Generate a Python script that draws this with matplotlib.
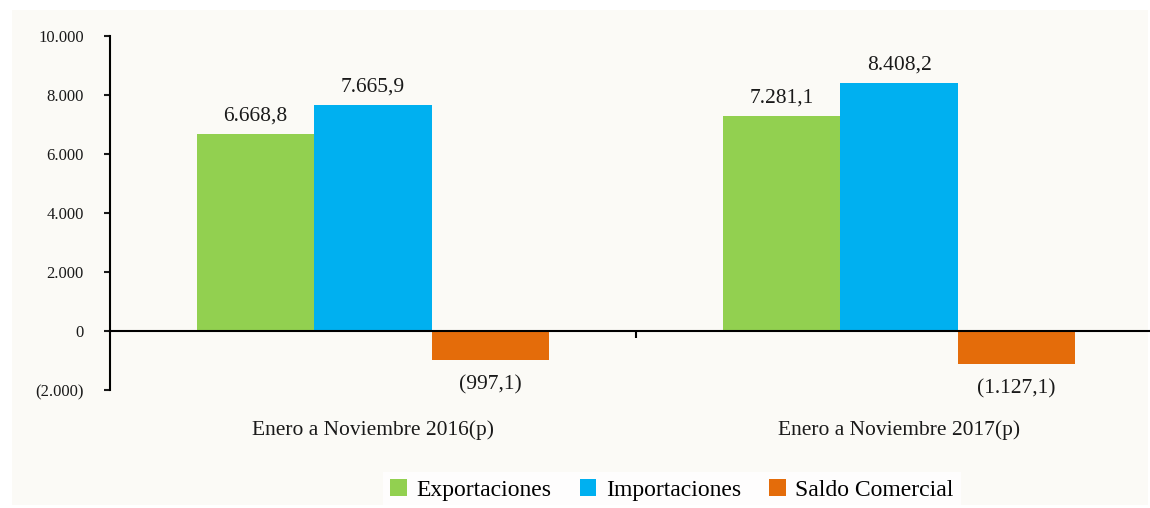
import numpy as np
import matplotlib.pyplot as plt
from matplotlib.patches import Rectangle
from matplotlib.ticker import FuncFormatter, FixedLocator

plt.rcParams['font.family'] = ['Liberation Serif', 'DejaVu Serif']

# data (millones)
periodos = ["Enero a Noviembre 2016(p)", "Enero a Noviembre 2017(p)"]
series = ["Exportaciones", "Importaciones", "Saldo Comercial"]
exportaciones = [6668.8, 7281.1]
importaciones = [7665.9, 8408.2]
saldo = [-997.1, -1127.1]

colores = ["#92D050", "#00B0F0", "#E46C0A"]


def fmt_num(v, dec=1):
    s = f"{abs(v):,.{dec}f}".replace(",", "X").replace(".", ",").replace("X", ".")
    return f"({s})" if v < 0 else s


fig = plt.figure(figsize=(11.5, 5.08), dpi=100)
fig.patches.append(Rectangle((12 / 1150, 3 / 508), 1136 / 1150, 495 / 508,
                             transform=fig.transFigure, facecolor="#FBFAF6",
                             edgecolor="none", zorder=-10))

ax = fig.add_axes([110 / 1150, 1 - 390 / 508, 1052 / 1150, 354 / 508])
ax.patch.set_alpha(0)

x = np.arange(len(periodos))
w = 0.223
valores = [exportaciones, importaciones, saldo]
for i, (nombre, vals) in enumerate(zip(series, valores)):
    pos = x + (i - 1) * w
    bars = ax.bar(pos, vals, w, color=colores[i], label=nombre, zorder=2)
    for b, v in zip(bars, vals):
        cx = b.get_x() + b.get_width() / 2
        if v >= 0:
            ax.annotate(fmt_num(v), (cx, v), xytext=(0, 6), textcoords="offset points",
                        ha="center", va="bottom", fontsize=15.5, color="#1a1a1a")
        else:
            ax.annotate(fmt_num(v), (cx, v), xytext=(0, -11), textcoords="offset points",
                        ha="center", va="top", fontsize=15.5, color="#1a1a1a")

ax.set_xlim(-0.5, len(periodos) - 0.5)
ax.set_ylim(-2000, 10000)
ax.set_yticks(np.arange(-2000, 10001, 2000))
ax.yaxis.set_major_formatter(FuncFormatter(lambda v, p: fmt_num(v, 0)))
ax.tick_params(axis="y", direction="out", length=4, width=1.5, labelsize=12, pad=15,
               colors="#1a1a1a")

ax.spines["bottom"].set_position(("data", 0))
ax.spines["bottom"].set_linewidth(1.5)
ax.spines["left"].set_linewidth(1.5)
ax.spines["top"].set_visible(False)
ax.spines["right"].set_visible(False)
ax.spines["left"].set_zorder(3)
ax.spines["bottom"].set_zorder(3)

ax.set_xticks(x)
ax.set_xticklabels(periodos)
ax.xaxis.set_minor_locator(FixedLocator(x[:-1] + 0.5))
ax.tick_params(axis="x", which="major", length=0, labelsize=15.5, pad=64, colors="#1a1a1a")
ax.tick_params(axis="x", which="minor", direction="out", length=5, width=1.5)

leg = fig.legend(loc="center", bbox_to_anchor=(672 / 1150, 1 - 490 / 508), ncol=3,
                 frameon=True, fontsize=17, handlelength=0.7, handleheight=0.7,
                 handletextpad=0.4, columnspacing=1.2, borderpad=0.3)
leg.get_frame().set_facecolor("white")
leg.get_frame().set_edgecolor("none")
leg.get_frame().set_boxstyle("square", pad=0.0)

fig.savefig("out.png", dpi=100, facecolor="white")
